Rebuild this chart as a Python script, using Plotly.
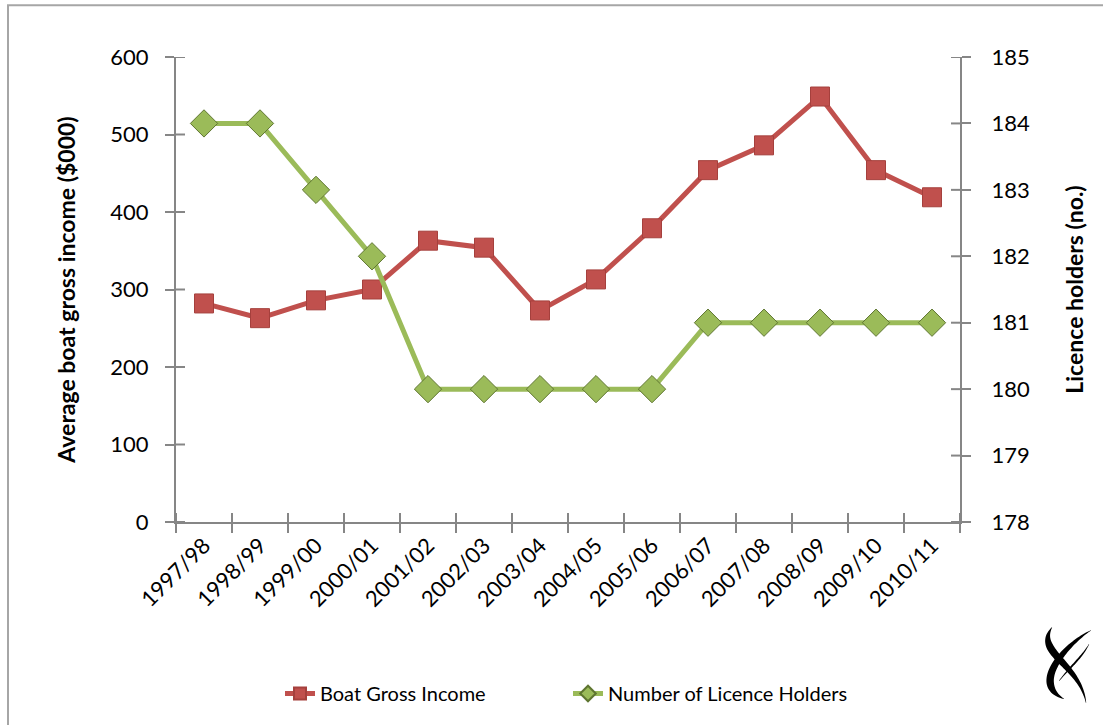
import numpy as np
import plotly.graph_objects as go

seasons = ["1997/98", "1998/99", "1999/00", "2000/01", "2001/02", "2002/03", "2003/04",
           "2004/05", "2005/06", "2006/07", "2007/08", "2008/09", "2009/10", "2010/11"]
gross_income = [282, 263, 286, 300, 363, 354, 273, 313, 379, 454, 486, 549, 454, 419]
licence_holders = [184, 184, 183, 182, 180, 180, 180, 180, 180, 181, 181, 181, 181, 181]

income_ticks = [0, 100, 200, 300, 400, 500, 600]
holder_ticks = [178, 179, 180, 181, 182, 183, 184, 185]

RED = "#C0504D"
GREEN = "#9BBB59"
AXIS = "#868686"
FONT = "Lato, 'Open Sans', sans-serif"
TICKLEN = 9

# plot area in pixels
L, R, T, B = 176, 960, 57, 525
W, H = R - L, B - T


def to_paper(px, py):
    return (px - L) / W, (B - py) / H


fig = go.Figure()
fig.add_trace(go.Scatter(
    x=seasons, y=gross_income, name="Boat Gross Income", mode="lines+markers",
    line=dict(color=RED, width=5),
    marker=dict(symbol="square", size=19, color=RED, line=dict(color="#A5403D", width=1)),
    yaxis="y", legend="legend",
))
fig.add_trace(go.Scatter(
    x=seasons, y=licence_holders, name="Number of Licence Holders", mode="lines+markers",
    line=dict(color=GREEN, width=5),
    marker=dict(symbol="diamond", size=21, color=GREEN, line=dict(color="#5E7530", width=1)),
    yaxis="y2", legend="legend2",
))

# inner halves of the crossing tick marks
tick_line = dict(color=AXIS, width=2)
for v in income_ticks:
    fig.add_shape(type="line", xref="paper", xsizemode="pixel", xanchor=0, x0=0, x1=TICKLEN,
                  yref="y", y0=v, y1=v, line=tick_line)
for v in holder_ticks:
    fig.add_shape(type="line", xref="paper", xsizemode="pixel", xanchor=1, x0=-TICKLEN, x1=0,
                  yref="y2", y0=v, y1=v, line=tick_line)
for i in range(len(seasons) + 1):
    fig.add_shape(type="line", xref="x", x0=i - 0.5, x1=i - 0.5,
                  yref="paper", ysizemode="pixel", yanchor=0, y0=0, y1=TICKLEN, line=tick_line)

# outer frame
fx0, fy0 = to_paper(8, 760)
fx1, fy1 = to_paper(1130, 5)
fig.add_shape(type="rect", xref="paper", yref="paper", x0=fx0, x1=fx1, y0=fy0, y1=fy1,
              line=dict(color="#A6A6A6", width=2), fillcolor="rgba(0,0,0,0)", layer="below")


# emblem in the lower-right corner: tapered brush strokes along cubic curves
def bezier(p, n=50):
    t = np.linspace(0, 1, n)[:, None]
    p = np.array(p, dtype=float)
    return ((1 - t) ** 3 * p[0] + 3 * (1 - t) ** 2 * t * p[1]
            + 3 * (1 - t) * t ** 2 * p[2] + t ** 3 * p[3]), t[:, 0]


def stroke(p, wmax, peak):
    c, t = bezier(p)
    d = np.gradient(c, axis=0)
    nrm = np.stack([-d[:, 1], d[:, 0]], axis=1)
    nrm /= np.linalg.norm(nrm, axis=1, keepdims=True)
    prof = np.where(t < peak, np.sin(np.pi / 2 * t / peak),
                    np.sin(np.pi / 2 * (1 - t) / (1 - peak)))
    w = 0.4 + wmax * prof
    a = c + nrm * w[:, None] / 2
    b = c - nrm * w[:, None] / 2
    pts = np.vstack([a, b[::-1]])
    parts = []
    for i, (x, y) in enumerate(pts):
        X, Y = to_paper(x, y)
        parts.append(("M" if i == 0 else "L") + f"{X:.5f},{Y:.5f}")
    return " ".join(parts) + " Z"


for pts, wmax, peak in [
    ([(1091, 634), (1066, 648), (1030, 688), (1064, 703)], 7, 0.72),
    ([(1052, 631), (1034, 656), (1080, 668), (1086, 707)], 7, 0.35),
    ([(1059, 685), (1070, 671), (1082, 661), (1089, 648)], 1.5, 0.5),
]:
    fig.add_shape(type="path", xref="paper", yref="paper", line=dict(width=0),
                  fillcolor="black", path=stroke(pts, wmax, peak))

tick_common = dict(tickwidth=2, tickcolor=AXIS, ticklen=TICKLEN, showgrid=False, zeroline=False)
leg_x1, leg_y = to_paper(280, 678)
leg_x2, _ = to_paper(568, 678)

fig.update_layout(
    width=1103, height=725,
    margin=dict(l=L, r=1103 - R, t=T, b=725 - B),
    paper_bgcolor="white", plot_bgcolor="white",
    font=dict(family=FONT, size=22, color="#000000"),
    showlegend=True,
    legend=dict(x=leg_x1, xanchor="left", y=leg_y, yanchor="top", font=dict(size=20),
                itemsizing="constant", bgcolor="rgba(0,0,0,0)"),
    legend2=dict(x=leg_x2, xanchor="left", y=leg_y, yanchor="top", font=dict(size=20),
                 itemsizing="constant", bgcolor="rgba(0,0,0,0)"),
    xaxis=dict(
        type="category", range=[-0.5, 13.5], tickson="boundaries",
        showline=True, linecolor=AXIS, linewidth=2, ticks="outside",
        tickangle=-45, tickfont=dict(size=22), **tick_common,
    ),
    yaxis=dict(
        range=[income_ticks[0], income_ticks[-1]], tickvals=income_ticks,
        showline=True, linecolor=AXIS, linewidth=2,
        ticks="outside", tickfont=dict(size=22), ticklabelstandoff=12, **tick_common,
        title=dict(text="<b>Average boat gross income ($000)</b>", font=dict(size=23),
                   standoff=28),
    ),
    yaxis2=dict(
        range=[holder_ticks[0], holder_ticks[-1]], tickvals=holder_ticks,
        overlaying="y", side="right", anchor="x",
        showline=True, linecolor=AXIS, linewidth=2,
        ticks="outside", tickfont=dict(size=22), ticklabelstandoff=16, **tick_common,
        title=dict(text="<b>Licence holders (no.)</b>", font=dict(size=23), standoff=38),
    ),
)

fig.write_html("out.html")
